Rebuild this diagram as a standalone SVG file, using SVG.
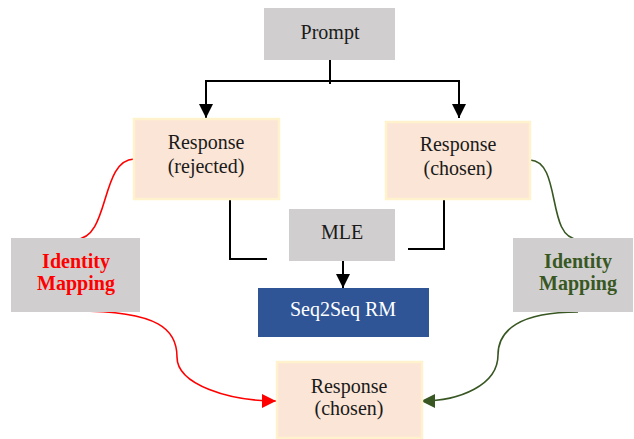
<svg xmlns="http://www.w3.org/2000/svg" width="634" height="439" viewBox="0 0 634 439">
<style>
text{font-family:"Liberation Serif","Times New Roman",serif;font-size:20px;text-anchor:middle;fill:#1a1a1a}
.gray{fill:#D0CECE}
.peach{fill:#FBE5D6;stroke:#FFF2CC;stroke-width:2.5}
.blue{fill:#2F5597}
.blk{fill:none;stroke:#000;stroke-width:2}
.red{fill:none;stroke:#FF0000;stroke-width:1.6}
.grn{fill:none;stroke:#385723;stroke-width:1.6}
.bold{font-weight:bold}
</style>
<defs>
<marker id="ab" markerUnits="userSpaceOnUse" markerWidth="16" markerHeight="16" refX="14" refY="7" orient="auto"><path d="M0,0 L14,7 L0,14 z" fill="#000"/></marker>
<marker id="ar" markerUnits="userSpaceOnUse" markerWidth="16" markerHeight="16" refX="14" refY="7" orient="auto"><path d="M0,0 L14,7 L0,14 z" fill="#FF0000"/></marker>
<marker id="ag" markerUnits="userSpaceOnUse" markerWidth="16" markerHeight="16" refX="14" refY="7" orient="auto"><path d="M0,0 L14,7 L0,14 z" fill="#385723"/></marker>
</defs>
<g id="connectors">
<path class="blk" d="M330,60 V84"/>
<path class="blk" d="M206,81 H459"/>
<path class="blk" d="M206,80 V118" marker-end="url(#ab)"/>
<path class="blk" d="M459,80 V118" marker-end="url(#ab)"/>
<path class="blk" d="M230,175 V259 H267"/>
<path class="blk" d="M444,186 V249 H408"/>
<path class="blk" d="M343,261 V288" marker-end="url(#ab)"/>
<path class="red" d="M134,159 C100,160 110,239 76,239"/>
<path class="grn" d="M530,160 C562,161 546,239 578,239"/>
<path class="red" d="M76,311 C160,311 177,330 177,357 C177,385 230,401 276,401" marker-end="url(#ar)"/>
<path class="grn" d="M578,312 C520,312 498,330 498,355 C498,385 460,401 421,401" marker-end="url(#ag)"/>
</g>
<g id="prompt"><rect class="gray" x="264" y="8" width="131" height="52"/><text x="330" y="39">Prompt</text></g>
<g id="resp-rejected"><rect class="peach" x="134" y="119" width="145" height="80"/><text x="206" y="149">Response</text><text x="206" y="173">(rejected)</text></g>
<g id="resp-chosen"><rect class="peach" x="386" y="122" width="144" height="77"/><text x="458" y="151">Response</text><text x="458" y="175">(chosen)</text></g>
<g id="mle"><rect class="gray" x="289" y="209" width="106" height="52"/><text x="342" y="239">MLE</text></g>
<g id="seq2seq"><rect class="blue" x="258" y="288" width="171" height="49"/><text x="343" y="316" style="fill:#fff">Seq2Seq RM</text></g>
<g id="id-left"><rect class="gray" x="11" y="238" width="129" height="74"/><text class="bold" x="76" y="268" style="fill:#FF0000">Identity</text><text class="bold" x="76" y="290" style="fill:#FF0000">Mapping</text></g>
<g id="id-right"><rect class="gray" x="513" y="238" width="120" height="74"/><text class="bold" x="578" y="268" style="fill:#385723">Identity</text><text class="bold" x="578" y="290" style="fill:#385723">Mapping</text></g>
<g id="resp-bottom"><rect class="peach" x="277" y="362" width="145" height="76"/><text x="349" y="393">Response</text><text x="349" y="415">(chosen)</text></g>
</svg>
